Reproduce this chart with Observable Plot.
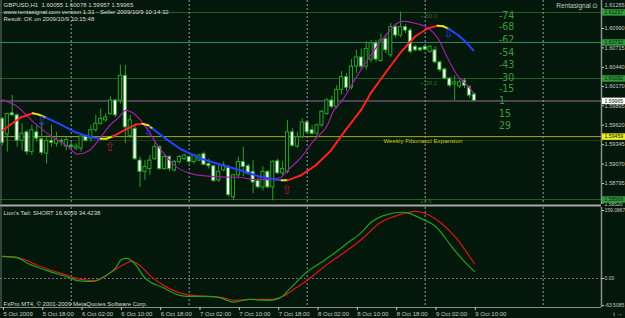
<!DOCTYPE html>
<html><head><meta charset="utf-8">
<script src="https://cdn.jsdelivr.net/npm/d3@7"></script>
<script src="https://cdn.jsdelivr.net/npm/@observablehq/plot@0.6"></script>
<style>
html,body{margin:0;padding:0;background:#03180a;overflow:hidden}
#chart{position:relative;width:625px;height:318px;background:#03180a;font-family:"Liberation Sans",Arial,sans-serif}
#chart svg{position:absolute;left:0;overflow:visible;background:transparent}
</style></head><body><div id="chart"></div>
<script>
// ---------- DATA ----------
const firstBar = Date.UTC(2009, 9, 5, 10); // 5 Oct 2009 10:00, H1 bars
const opens = [1.5971,1.5949,1.5979,1.5976,1.5940,1.5952,1.5924,1.5952,1.5942,1.5922,1.5940,1.5936,1.5940,1.5932,1.5933,1.5929,1.5929,1.5946,1.5943,1.5955,1.5964,1.5969,1.5978,1.5997,1.5997,1.6032,1.5947,1.5957,1.5912,1.5896,1.5900,1.5914,1.5931,1.5900,1.5917,1.5898,1.5910,1.5914,1.5917,1.5910,1.5912,1.5921,1.5907,1.5904,1.5884,1.5898,1.5903,1.5860,1.5891,1.5910,1.5904,1.5896,1.5883,1.5874,1.5896,1.5874,1.5911,1.5894,1.5896,1.5952,1.5932,1.5945,1.5966,1.5955,1.5950,1.5962,1.5978,1.5997,1.5988,1.6012,1.6030,1.6015,1.6045,1.6058,1.6045,1.6055,1.6078,1.6053,1.6084,1.6061,1.6101,1.6089,1.6101,1.6096,1.6073,1.6071,1.6073,1.6066,1.6068,1.6051,1.6041,1.6028,1.6020,1.6017,1.6025,1.6016,1.60055];
const highs = [1.5973,1.5979,1.6004,1.5978,1.5964,1.5955,1.5962,1.5962,1.5966,1.5947,1.5962,1.5952,1.5943,1.5945,1.5938,1.5936,1.5947,1.5947,1.5962,1.5976,1.5985,1.5978,1.6002,1.5999,1.6047,1.6047,1.5976,1.5962,1.5917,1.5912,1.5919,1.5938,1.5933,1.5921,1.5919,1.5912,1.5919,1.5921,1.5919,1.5921,1.5921,1.5924,1.5914,1.5905,1.5907,1.5910,1.5905,1.5893,1.5917,1.5931,1.5907,1.5912,1.5888,1.5903,1.5898,1.5912,1.5914,1.5910,1.5969,1.5957,1.5952,1.5971,1.5969,1.5962,1.5964,1.5983,1.6000,1.6003,1.6018,1.6038,1.6035,1.6055,1.6068,1.6070,1.6080,1.6082,1.6082,1.6091,1.6090,1.6106,1.6105,1.6122,1.6104,1.6099,1.6075,1.6073,1.6075,1.6075,1.6070,1.6053,1.6043,1.6030,1.6032,1.6026,1.6028,1.6018,1.60078];
const lows = [1.5933,1.5924,1.5975,1.5931,1.5926,1.5919,1.5919,1.5938,1.5919,1.5907,1.5931,1.5931,1.5933,1.5926,1.5929,1.5926,1.5924,1.5938,1.5938,1.5952,1.5962,1.5966,1.5976,1.5973,1.5992,1.5936,1.5943,1.5912,1.5874,1.5884,1.5891,1.5912,1.5898,1.5898,1.5896,1.5896,1.5907,1.5912,1.5907,1.5907,1.5910,1.5905,1.5900,1.5881,1.5881,1.5896,1.5860,1.5856,1.5886,1.5889,1.5891,1.5865,1.5872,1.5869,1.5872,1.5855,1.5892,1.5891,1.5893,1.5931,1.5929,1.5943,1.5950,1.5948,1.5945,1.5959,1.5976,1.5985,1.5985,1.6005,1.6010,1.6012,1.6035,1.6040,1.6040,1.6050,1.6051,1.6051,1.6063,1.6058,1.6085,1.6086,1.6092,1.6063,1.6066,1.6066,1.6067,1.6064,1.6049,1.6037,1.6026,1.6015,1.5997,1.6014,1.6014,1.6000,1.59957];
const closes = [1.5937,1.5978,1.5976,1.5940,1.5950,1.5924,1.5955,1.5943,1.5923,1.5940,1.5937,1.5941,1.5938,1.5941,1.5931,1.5932,1.5946,1.5940,1.5955,1.5964,1.5971,1.5973,1.5997,1.5976,1.6032,1.5959,1.5969,1.5914,1.5896,1.5903,1.5912,1.5931,1.5900,1.5917,1.5900,1.5910,1.5917,1.5919,1.5910,1.5919,1.5919,1.5906,1.5904,1.5883,1.5896,1.5905,1.5863,1.5891,1.5910,1.5903,1.5893,1.5881,1.5874,1.5896,1.5874,1.5910,1.5894,1.5900,1.5952,1.5933,1.5945,1.5966,1.5952,1.5950,1.5962,1.5981,1.5997,1.5988,1.6012,1.6030,1.6015,1.6045,1.6058,1.6045,1.6070,1.6078,1.6055,1.6082,1.6068,1.6101,1.6089,1.6101,1.6096,1.6066,1.6068,1.6068,1.6069,1.6073,1.6051,1.6040,1.6028,1.6018,1.6023,1.6023,1.6018,1.6004,1.59965];

// trend MA (red rising / yellow turning / blue falling), bar index -> price
const trendMaBar = [0.1,1.7,3.7,6.2,7.4,8.8,11.9,14.9,18,20,21.2,22.4,25.1,27.1,28.5,29.6,30.6,33.2,36.3,40.3,44.4,48.5,52.5,55.6,56.8,58,60.7,63.7,66.8,69.8,72.9,74.9,78,81,84,86.5,88.5,89.7,90.9,92.8,94.4,95.8];
const trendMaVal = [1.5955,1.5963,1.5973,1.5979,1.5977,1.5973,1.5963,1.5952,1.5945,1.5943,1.5943,1.5946,1.5956,1.5963,1.5964,1.5962,1.5957,1.5943,1.5928,1.5915,1.5906,1.5898,1.5889,1.5885,1.5884,1.5884,1.5891,1.5905,1.5926,1.5955,1.5983,1.6007,1.6037,1.6065,1.6088,1.6099,1.6103,1.6102,1.6098,1.6089,1.6079,1.6068];
const trendMaState = ["up","up","up","turn","turn","down","down","down","down","turn","turn","up","up","up","turn","turn","down","down","down","down","down","down","down","down","turn","up","up","up","up","up","up","up","up","up","up","up","turn","turn","down","down","down"];

// fast MA (purple)
const fastMaBar = [0,2.7,6.4,9.8,13.3,15.3,17.6,20,22,23.5,25.1,26.7,28.1,29.6,31.6,33.6,35.6,37.7,40.3,44.4,48.5,51.5,54,56.6,58,60.7,63.3,66.1,67.4,68.8,71.8,74.9,78.3,80,81.6,83.6,86.5,88.5,90.5,92.6,94.6,95.8];
const fastMaVal = [1.5998,1.5990,1.5966,1.5947,1.5932,1.5921,1.5926,1.5945,1.5963,1.5972,1.5983,1.5979,1.5969,1.5955,1.5933,1.5916,1.5902,1.5895,1.5891,1.5889,1.5888,1.5885,1.5885,1.5888,1.5898,1.5916,1.5940,1.5962,1.5983,1.5994,1.6028,1.6061,1.6092,1.6105,1.6109,1.6107,1.6100,1.6086,1.6058,1.6032,1.6018,1.6008];

// Lion's Tail indicator
const tailGreenBar = [0,2.7,5.2,9,14.1,15.3,18.4,20,23.1,24.2,25.3,26.5,29.1,32.4,36.3,38.5,41.8,44,47,50.3,54.1,56.4,58.8,61.9,64.9,68.2,70.4,72.8,75.1,77.5,81.4,82.6,85.2,88.3,91.5,93.8,96];
const tailGreenVal = [52,50,35,19,0,-5,-7,0,26,44,47,40,0,-20,-40,-42,-42,-44,-55,-49,-51,-46,-20,15,38,65,85,105,132,147,155,153,140,120,73,42,16.6059];
const tailRedBar = [0,3.7,7.8,11.9,16,19,22,25.1,26.1,27.7,30.2,33.2,37.3,41.8,44.4,47.4,50.5,54.6,57,59.6,62.7,65.7,69.8,72.8,76.9,81,84,86,89.1,92.2,96];
const tailRedVal = [52,47,28,12,-2,-5,14,35,40,33,5,-19,-37,-42,-44,-51,-49,-49,-42,-23,2,30,63,89,131,150,157,152,131,96,34.4238];

// horizontal objects
const levelPrices = [1.61217,1.60792,1.60282,1.59965,1.59459,1.59404,1.58569];
const levelKinds = ["fibA","fibB","fibA","bid","weekly","fibC","fibA"];
const boxPrices = [1.61217,1.60792,1.60282,1.59965,1.59459,1.58569];
const boxKinds = ["green","green","green","white","yellow","green"];
const fibRetLabels = ["+ 50.0","+ 61.8","+ 38.2","23.6"];
const fibRetPrices = [1.6117,1.6071,1.6022,1.5855];
const fibRetTime = Date.UTC(2009, 9, 8, 23);

const priceTicks = [1.61265,1.60990,1.60715,1.60440,1.60170,1.59895,1.59620,1.59345,1.59070,1.58795,1.58520];
const tailTicks = [159.0867, 0, -63.5085];
const tailTickLabels = ["159.0867","0.00","-63.5085"];

const fibLabels = ["-74","-68","-62","-54","-43","-30","-15","1","15","29"];
const fibPrices = [1.6117,1.6101,1.6083,1.6065,1.6048,1.6030,1.6014,1.5997,1.5979,1.5962];
const fibLabelTime = Date.UTC(2009, 9, 9, 15);

const arrowTimes = [Date.UTC(2009,9,5,18,0), Date.UTC(2009,9,6,15,45), Date.UTC(2009,9,9,4,45), Date.UTC(2009,9,6,7,50), Date.UTC(2009,9,7,19,50)];
const arrowPrices = [1.5967,1.5953,1.6091,1.5932,1.5871];
const arrowDirs = ["down","down","down","up","up"];

const dayLines = [Date.UTC(2009,9,6),Date.UTC(2009,9,7),Date.UTC(2009,9,8),Date.UTC(2009,9,9),Date.UTC(2009,9,10)];
const timeTicks = [Date.UTC(2009,9,5,10),Date.UTC(2009,9,5,18),Date.UTC(2009,9,6,2),Date.UTC(2009,9,6,10),Date.UTC(2009,9,6,18),Date.UTC(2009,9,7,2),Date.UTC(2009,9,7,10),Date.UTC(2009,9,7,18),Date.UTC(2009,9,8,2),Date.UTC(2009,9,8,10),Date.UTC(2009,9,8,18),Date.UTC(2009,9,9,2),Date.UTC(2009,9,9,10)];
const timeTickLabels = ["5 Oct 2009","5 Oct 18:00","6 Oct 02:00","6 Oct 10:00","6 Oct 18:00","7 Oct 02:00","7 Oct 10:00","7 Oct 18:00","8 Oct 02:00","8 Oct 10:00","8 Oct 18:00","9 Oct 02:00","9 Oct 10:00"];

const headerLines = ["GBPUSD,H1  1.60055 1.60078 1.59957 1.59965","www.rentasignal.com version 1.31 - Seller 2009/10/9 10:14:32","Result: OK on 2009/10/9 10:15:48"];
const brandText = "Rentasignal ⊙";
const weeklyText = "Weekly Fibonacci Expansion";
const weeklyTime = Date.UTC(2009, 9, 8, 15, 30), weeklyPrice = 1.5939;
const tailTitle = "Lion's Tail: SHORT 16.6059 34.4238";
const copyright = "FxPro MT4, © 2001-2009 MetaQuotes Software Corp.";

// ---------- BUILD ----------
const H = 3600e3;
const barTime = b => new Date(firstBar + b * H);
const candles = opens.map((o, i) => ({t: barTime(i), o, h: highs[i], l: lows[i], c: closes[i]}));
const trendSegs = [];
trendMaState.forEach((s, k) => {
  for (const j of [k, k + 1]) trendSegs.push({t: barTime(trendMaBar[j]), v: trendMaVal[j], seg: k, state: s});
});
const fastMa = fastMaBar.map((b, i) => ({t: barTime(b), v: fastMaVal[i]}));
const tailG = tailGreenBar.map((b, i) => ({t: barTime(b), v: tailGreenVal[i]}));
const tailR = tailRedBar.map((b, i) => ({t: barTime(b), v: tailRedVal[i]}));

const BG = "#03180a", GREEN = "#2aa02a", AXIS = "#c8c8c8";
const stateColor = {up: "#ff2222", turn: "#e8e020", down: "#2244ff"};
const levelStyle = {fibA: ["#2c5a2c", 1], fibB: ["#2f8a70", 1], bid: ["#5c4a5c", 1.5], weekly: ["#a8a820", 1], fibC: ["#1d3d1d", 1]};
const boxFill = {green: "#2f9a3a", white: "#ffffff", yellow: "#f0f020"};

const xDomain = [new Date(Date.UTC(2009,9,5,9,37)), new Date(Date.UTC(2009,9,10,11,52))];
const yDomain = [1.58498, 1.61386];
const tailDomain = [-67.8, 166.1];
const font = "'Liberation Sans', Arial, sans-serif";
const baseStyle = {background: "transparent", color: AXIS, fontFamily: font, fontSize: "6px", overflow: "visible"};

const main = Plot.plot({
  width: 625, height: 205, marginLeft: 0, marginRight: 24, marginTop: 0, marginBottom: 1,
  x: {type: "utc", domain: xDomain, axis: null},
  y: {domain: yDomain, axis: null},
  color: {type: "identity"},
  style: baseStyle,
  marks: [
    Plot.ruleY(levelPrices, {y: d => d, stroke: (d, i) => levelStyle[levelKinds[i]][0], strokeWidth: 1}),
    Plot.ruleY([levelPrices[levelKinds.indexOf("bid")]], {stroke: levelStyle.bid[0], strokeWidth: 1.5}),
    Plot.ruleX(dayLines, {x: d => new Date(d), stroke: "#9c94b4", strokeDasharray: "2,2", strokeWidth: 1}),
    Plot.text(fibRetLabels, {x: () => new Date(fibRetTime), y: (d, i) => fibRetPrices[i], text: d => d, textAnchor: "start", fill: "#2a6a2a", fontSize: 6}),
    Plot.ruleX(candles, {x: "t", y1: "l", y2: "h", stroke: GREEN, strokeWidth: 1}),
    Plot.rect(candles, {x1: d => new Date(+d.t - 0.32 * H), x2: d => new Date(+d.t + 0.32 * H), y1: "o", y2: "c",
      fill: d => d.c < d.o ? "#ffffff" : BG, stroke: GREEN, strokeWidth: 1}),
    Plot.line(fastMa, {x: "t", y: "v", stroke: "#a01ca8", strokeWidth: 1.2, curve: "monotone-x"}),
    Plot.line(trendSegs, {x: "t", y: "v", z: "seg", stroke: d => stateColor[d.state], strokeWidth: 2}),
    Plot.text(arrowTimes, {x: d => new Date(d), y: (d, i) => arrowPrices[i], text: (d, i) => arrowDirs[i] === "down" ? "⇩" : "⇧",
      fill: (d, i) => arrowDirs[i] === "down" ? "#2a3ad8" : "#a8163c", fontSize: 13, fontFamily: "DejaVu Sans"}),
    Plot.text(fibLabels, {x: () => new Date(fibLabelTime), y: (d, i) => fibPrices[i], text: d => d, textAnchor: "start",
      fill: "#3c9c3c", fontSize: 10.5, fontFamily: "'Liberation Sans Narrow','DejaVu Sans Condensed',sans-serif"}),
    Plot.text([weeklyText], {x: () => new Date(weeklyTime), y: () => weeklyPrice, text: d => d, textAnchor: "start", fill: "#c8c828", fontSize: 6.2}),
    Plot.text([headerLines.join("\n")], {text: d => d, frameAnchor: "top-left", dx: 3, dy: 2, lineAnchor: "top", lineHeight: 1.13, fill: "#dcdcdc", fontSize: 6}),
    Plot.text([brandText], {text: d => d, frameAnchor: "top-right", dx: -3, dy: 3, lineAnchor: "top", fill: "#c8c8c8", fontSize: 6.5}),
    Plot.ruleX([xDomain[0]], {stroke: "#6c6c6c", strokeWidth: 1, dx: 0.5}),
    Plot.ruleX([xDomain[1]], {stroke: "#8c8c8c", strokeWidth: 1.5}),
    Plot.ruleY([yDomain[0]], {stroke: "#a8a8a8", strokeWidth: 2, dy: 1})
  ]
});

const midTicks = priceTicks.slice(1, -1);
const mainRight = Plot.plot({
  width: 625, height: 205, marginLeft: 602, marginRight: 0, marginTop: 0, marginBottom: 1,
  x: {domain: [0, 1], axis: null},
  y: {domain: yDomain, axis: null},
  color: {type: "identity"},
  style: baseStyle,
  marks: [
    Plot.ruleY(priceTicks, {y: d => d, x1: 0, x2: 0.09, stroke: AXIS}),
    Plot.text(midTicks, {y: d => d, x: 0, text: d => d.toFixed(5), textAnchor: "start", dx: 2, fill: AXIS, fontSize: 5.6}),
    Plot.text(priceTicks.slice(0, 1), {y: d => d, x: 0, text: d => d.toFixed(5), textAnchor: "start", dx: 2, dy: -4, fill: AXIS, fontSize: 5.6}),
    Plot.text(priceTicks.slice(-1), {y: d => d, x: 0, text: d => d.toFixed(5), textAnchor: "start", dx: 2, dy: 1.5, fill: AXIS, fontSize: 5}),
    Plot.tickY(boxPrices, {y: d => d, stroke: (d, i) => boxFill[boxKinds[i]], strokeWidth: 6.5}),
    Plot.text(boxPrices, {y: d => d, x: 0, text: d => d.toFixed(5), textAnchor: "start", dx: 2, fill: "#08200a", fontSize: 5.2})
  ]
});

const ind = Plot.plot({
  width: 625, height: 113, marginLeft: 0, marginRight: 24, marginTop: 2, marginBottom: 11,
  x: {type: "utc", domain: xDomain, axis: null},
  y: {domain: tailDomain, axis: null},
  color: {type: "identity"},
  style: baseStyle,
  marks: [
    Plot.ruleY([0], {stroke: "#86608a", strokeDasharray: "2,2"}),
    Plot.ruleX(dayLines, {x: d => new Date(d), stroke: "#9c94b4", strokeDasharray: "2,2", strokeWidth: 1}),
    Plot.line(tailR, {x: "t", y: "v", stroke: "#d81818", strokeWidth: 1.2, curve: "monotone-x"}),
    Plot.line(tailG, {x: "t", y: "v", stroke: "#22a022", strokeWidth: 1.2, curve: "monotone-x"}),
    Plot.text([tailTitle], {text: d => d, frameAnchor: "top-left", dx: 3, dy: 3, lineAnchor: "top", fill: "#dcdcdc", fontSize: 6}),
    Plot.text([copyright], {text: d => d, frameAnchor: "bottom-left", dx: 3, dy: -2, lineAnchor: "bottom", fill: "#dcdcdc", fontSize: 6}),
    Plot.ruleX([xDomain[0]], {stroke: "#6c6c6c", strokeWidth: 1, dx: 0.5}),
    Plot.ruleX([xDomain[1]], {stroke: "#8c8c8c", strokeWidth: 1.5}),
    Plot.ruleY([tailDomain[0]], {stroke: "#8c8c8c", strokeWidth: 1}),
    Plot.axisX(timeTicks.map(d => new Date(d)), {tickFormat: (d) => timeTickLabels[timeTicks.indexOf(+d)], tickSize: 3, tickPadding: 1,
      textAnchor: "start", dx: 1, stroke: AXIS, fill: AXIS, fontSize: 6})
  ]
});

const indRight = Plot.plot({
  width: 625, height: 113, marginLeft: 602, marginRight: 0, marginTop: 2, marginBottom: 11,
  x: {domain: [0, 1], axis: null},
  y: {domain: tailDomain, axis: null},
  style: baseStyle,
  marks: [
    Plot.ruleY(tailTicks, {y: d => d, x1: 0, x2: 0.09, stroke: AXIS}),
    Plot.text(tailTicks, {y: d => d, x: 0, text: (d, i) => tailTickLabels[i], textAnchor: "start", dx: 2, fill: AXIS, fontSize: 5})
  ]
});

const root = document.getElementById("chart");
[[main, 0], [mainRight, 0], [ind, 205], [indRight, 205]].forEach(([svg, top]) => {
  svg.style.top = top + "px";
  root.appendChild(svg);
});
</script></body></html>
